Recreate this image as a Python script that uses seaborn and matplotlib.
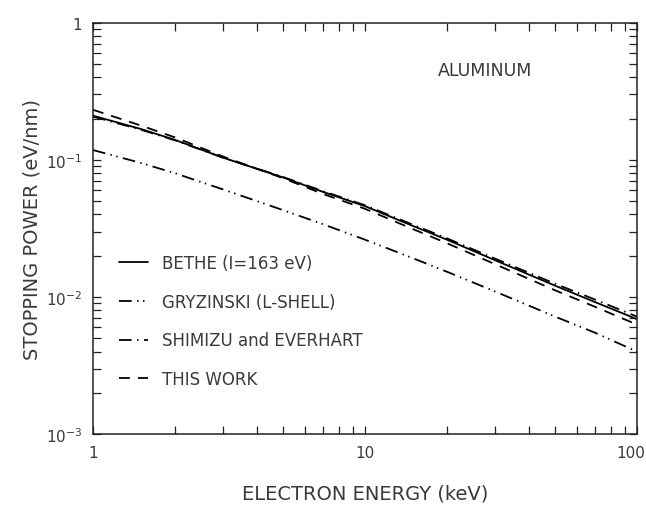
import numpy as np
import pandas as pd
import matplotlib
matplotlib.use("Agg")
import matplotlib.pyplot as plt
import matplotlib.transforms as mtransforms
import seaborn as sns
from matplotlib.ticker import FixedLocator, FixedFormatter, LogLocator, NullFormatter

# Electron energy grid (keV)
energy = [1, 1.5, 2, 3, 5, 7, 10, 15, 20, 30, 50, 70, 100]

# Stopping power curves (eV/nm)
bethe = [0.210, 0.168, 0.140, 0.104, 0.0745, 0.0585, 0.0460, 0.0330, 0.0262, 0.0186, 0.0121, 0.0092, 0.0069]
gryzinski = [0.118, 0.095, 0.080, 0.061, 0.043, 0.034, 0.0262, 0.0192, 0.0153, 0.0110, 0.0072, 0.0055, 0.0040]
shimizu = [0.207, 0.166, 0.139, 0.104, 0.0750, 0.0592, 0.0467, 0.0337, 0.0268, 0.0191, 0.0125, 0.0096, 0.0072]
this_work = [0.232, 0.178, 0.146, 0.106, 0.0735, 0.0565, 0.0440, 0.0313, 0.0247, 0.0174, 0.0112, 0.0085, 0.0063]

labels = ["BETHE (I=163 eV)", "GRYZINSKI (L-SHELL)", "SHIMIZU and EVERHART", "THIS WORK"]
series = [bethe, gryzinski, shimizu, this_work]

df = pd.concat(
    [pd.DataFrame({"energy": energy, "power": vals, "model": lab}) for lab, vals in zip(labels, series)],
    ignore_index=True,
)

dash_map = {
    labels[0]: "",
    labels[1]: (7, 3, 0.8, 2.5, 0.8, 3),
    labels[2]: (7, 3, 0.8, 3),
    labels[3]: (6, 4.5),
}

sns.set_theme(style="white")
plt.rcParams["font.family"] = ["DejaVu Sans"]
text_color = "#3a3a3a"

fig = plt.figure(figsize=(6.46, 5.06), dpi=100)
ax = fig.add_axes([0.144, 0.140, 0.842, 0.813])

sns.lineplot(
    data=df, x="energy", y="power", style="model", style_order=labels,
    dashes=dash_map, color="black", linewidth=1.3, estimator=None,
    sort=True, ax=ax, legend=True,
)

ax.set_xscale("log")
ax.set_yscale("log")
ax.set_xlim(1, 100)
ax.set_ylim(1e-3, 1)

# Axis frame
for sp in ax.spines.values():
    sp.set_color("#222222")
    sp.set_linewidth(1.1)

# Ticks
ax.xaxis.set_major_locator(FixedLocator([1, 10, 100]))
ax.xaxis.set_major_formatter(FixedFormatter(["1", "10", "100"]))
ax.yaxis.set_major_locator(FixedLocator([1e-3, 1e-2, 1e-1, 1]))
ax.yaxis.set_major_formatter(FixedFormatter(["10$^{-3}$", "10$^{-2}$", "10$^{-1}$", "1"]))
ax.xaxis.set_minor_locator(LogLocator(base=10, subs=np.arange(2, 10)))
ax.yaxis.set_minor_locator(LogLocator(base=10, subs=np.arange(2, 10)))
ax.xaxis.set_minor_formatter(NullFormatter())
ax.yaxis.set_minor_formatter(NullFormatter())
ax.tick_params(which="both", direction="in", top=True, right=True, bottom=True, left=True,
               color="#222222", labelcolor=text_color, labelsize=11)
ax.tick_params(which="major", length=6, width=0.9, pad=8)
ax.tick_params(which="minor", length=6, width=0.9)

# Keep the right-most energy label inside the canvas
fig.canvas.draw()
xlabels = ax.get_xticklabels()
xlabels[-1].set_transform(xlabels[-1].get_transform()
                          + mtransforms.ScaledTranslation(-6 / 100, 0, fig.dpi_scale_trans))

ax.set_xlabel("ELECTRON ENERGY (keV)", fontsize=14, color=text_color)
ax.set_ylabel("STOPPING POWER (eV/nm)", fontsize=14, color=text_color)
ax.xaxis.set_label_coords(0.5, -0.12)
ax.yaxis.set_label_coords(-0.095, 0.5)

ax.text(0.72, 0.885, "ALUMINUM", transform=ax.transAxes, fontsize=12.5,
        color=text_color, ha="center", va="center")

handles, labs = ax.get_legend_handles_labels()
leg = ax.legend(handles, labs, loc="upper left", bbox_to_anchor=(0.02, 0.475),
                frameon=False, fontsize=12, labelspacing=1.25, handlelength=1.75,
                handletextpad=0.85, labelcolor=text_color)
for h in leg.get_lines():
    h.set_linewidth(1.3)

fig.savefig("out.png", dpi=100, facecolor="white")
